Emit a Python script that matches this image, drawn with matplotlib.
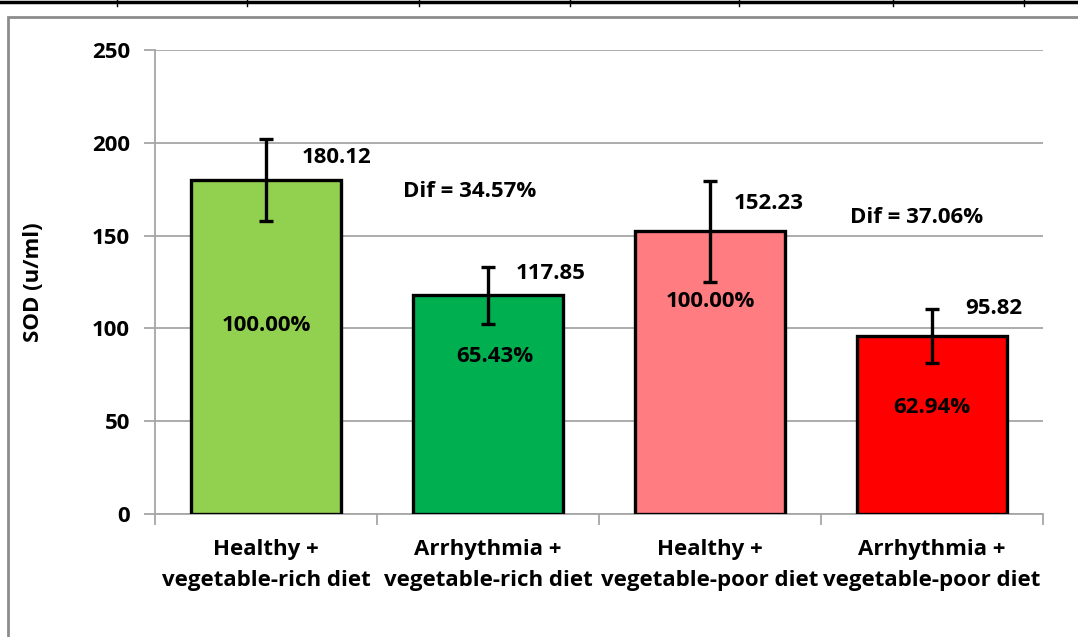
import matplotlib
matplotlib.use('Agg')
import matplotlib.pyplot as plt
from matplotlib.lines import Line2D
from matplotlib.patches import Rectangle

# --- data ---
groups = ['Healthy +\nvegetable-rich diet', 'Arrhythmia +\nvegetable-rich diet',
          'Healthy +\nvegetable-poor diet', 'Arrhythmia +\nvegetable-poor diet']
sod = [180.12, 117.85, 152.23, 95.82]
sod_err = [22.0, 15.5, 27.4, 14.7]
pct_labels = ['100.00%', '65.43%', '100.00%', '62.94%']
dif_labels = ['Dif = 34.57%', 'Dif = 37.06%']
bar_colors = ['#92D050', '#00B050', '#FF7C80', '#FF0000']

# label placements (x offset from bar centre, y in data units)
val_dx = [0.32, 0.28, 0.265, 0.28]
val_y = [192.0, 129.5, 167.5, 110.5]
pct_dx = [0.0, 0.03, 0.0, 0.0]
pct_y = [101.3, 84.6, 114.3, 57.6]
dif_xy = [(0.915, 174.0), (2.93, 160.0)]

plt.rcParams['font.family'] = ['Open Sans', 'DejaVu Sans']
plt.rcParams['font.weight'] = 'bold'
FS = 16

fig = plt.figure(figsize=(10.78, 6.37), dpi=100)

# outer frame and table line at top
fig.add_artist(Rectangle((8/1078, -0.05), 1.1, 1 - 17/637 + 0.05,
                         transform=fig.transFigure, fill=False,
                         edgecolor='#8c8c8c', linewidth=2.0))
fig.add_artist(Line2D([0, 1], [1 - 1.5/637, 1 - 1.5/637], transform=fig.transFigure,
                      color='black', linewidth=2.5))
for xp in [117, 247, 419, 570, 739, 893, 1024]:
    fig.add_artist(Line2D([xp/1078, xp/1078], [1, 1 - 6/637], transform=fig.transFigure,
                          color='black', linewidth=1.0))

ax = fig.add_axes([155/1078, 1 - 514/637, (1043 - 155)/1078, (514 - 50)/637])
x = list(range(len(groups)))
ax.bar(x, sod, width=0.68, color=bar_colors, edgecolor='black', linewidth=2.4, zorder=3)
ax.errorbar(x, sod, yerr=sod_err, fmt='none', ecolor='black', elinewidth=2.4,
            capsize=5, capthick=2.4, zorder=4)

for i in x:
    ax.text(i + val_dx[i], val_y[i], f'{sod[i]:.2f}', ha='center', va='center',
            fontsize=FS, fontweight='bold', zorder=5)
    ax.text(i + pct_dx[i], pct_y[i], pct_labels[i], ha='center', va='center',
            fontsize=FS, fontweight='bold', zorder=5)
for (dx, dy), lab in zip(dif_xy, dif_labels):
    ax.text(dx, dy, lab, ha='center', va='center', fontsize=FS, fontweight='bold')

ax.set_xlim(-0.5, 3.5)
ax.set_ylim(0, 250)
ax.set_yticks([0, 50, 100, 150, 200, 250])
ax.yaxis.grid(True, color='#a6a6a6', linewidth=1.3, zorder=0)
ax.set_axisbelow(True)

ax.set_xticks(x)
ax.set_xticklabels(groups, fontsize=FS, fontweight='bold', linespacing=1.6)
ax.set_xticks([-0.5, 0.5, 1.5, 2.5, 3.5], minor=True)
ax.tick_params(axis='x', which='major', length=0, pad=18)
ax.tick_params(axis='x', which='minor', length=8, width=1.3, color='#a6a6a6', direction='out')
ax.tick_params(axis='y', length=8, width=1.3, color='#a6a6a6', labelsize=FS, pad=10)
for t in ax.get_yticklabels():
    t.set_fontweight('bold')

for s in ['top', 'right']:
    ax.spines[s].set_visible(False)
for s in ['left', 'bottom']:
    ax.spines[s].set_color('#a6a6a6')
    ax.spines[s].set_linewidth(1.3)

ax.set_ylabel('SOD (u/ml)', fontsize=16, fontweight='bold')
ax.yaxis.set_label_coords(-111/888, 0.5)

fig.savefig('out.png', dpi=100)
